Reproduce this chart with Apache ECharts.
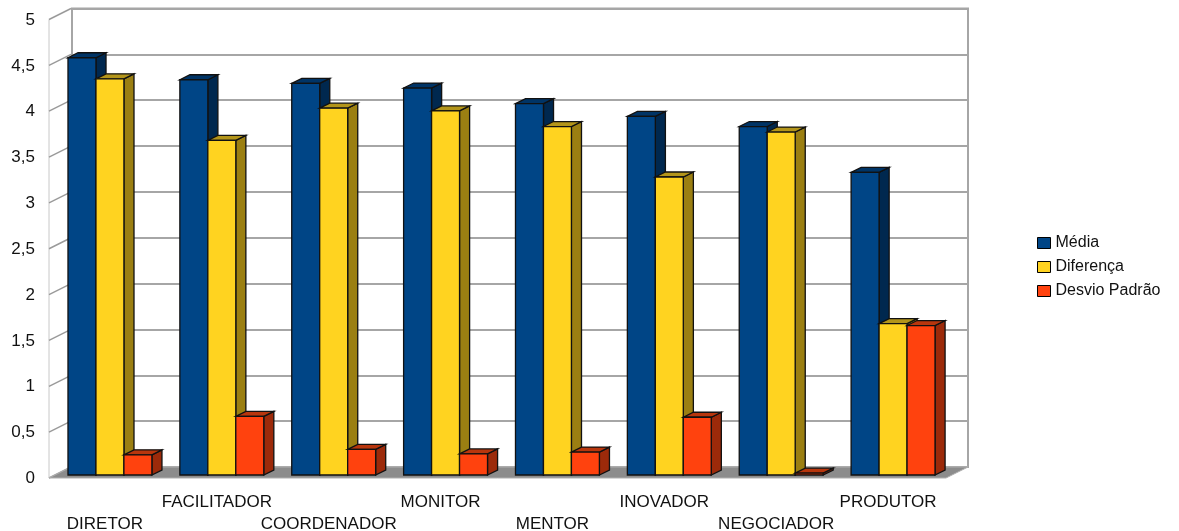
<!DOCTYPE html>
<html>
<head>
<meta charset="utf-8">
<script src="https://cdn.jsdelivr.net/npm/echarts@6/dist/echarts.min.js"></script>
<style>
  html, body { margin: 0; padding: 0; background: #fff; }
  #main { width: 1179px; height: 531px; }
</style>
</head>
<body>
<div id="main"></div>
<script>
// dados
var categories = ['DIRETOR', 'FACILITADOR', 'COORDENADOR', 'MONITOR', 'MENTOR', 'INOVADOR', 'NEGOCIADOR', 'PRODUTOR'];
var media = [4.55, 4.31, 4.27, 4.22, 4.05, 3.91, 3.80, 3.30];
var diferenca = [4.32, 3.65, 4.00, 3.97, 3.80, 3.25, 3.74, 1.65];
var desvio = [0.22, 0.64, 0.28, 0.23, 0.25, 0.63, 0.02, 1.63];
var yTicks = [0, 0.5, 1, 1.5, 2, 2.5, 3, 3.5, 4, 4.5, 5];
var seriesNames = ['Média', 'Diferença', 'Desvio Padrão'];

var font = '"Liberation Sans", Arial, sans-serif';

// cores: frente, lado, topo
var faces = [
    ['#004586', '#00284f', '#003466'],
    ['#ffd320', '#9b7f12', '#b3951a'],
    ['#ff420e', '#9c2a0a', '#b8360d']
];

function barRender(s) {
    return function (params, api) {
        var i = api.value(0), v = api.value(1);
        var base = api.coord([i, 0]);
        var top = api.coord([i, v]);
        var band = api.size([1, 0])[0];
        var w = band * 0.25;
        var x0 = base[0] - 1.5 * w + s * w;
        var x1 = x0 + w;
        var dx = band * 0.09, dy = -5;
        var st = { stroke: '#111', lineWidth: 1.3 };
        return {
            type: 'group',
            children: [
                { type: 'polygon', shape: { points: [[x1, top[1]], [x1 + dx, top[1] + dy], [x1 + dx, base[1] + dy], [x1, base[1]]] },
                  style: Object.assign({ fill: faces[s][1] }, st) },
                { type: 'polygon', shape: { points: [[x0, top[1]], [x0 + dx, top[1] + dy], [x1 + dx, top[1] + dy], [x1, top[1]]] },
                  style: Object.assign({ fill: faces[s][2] }, st) },
                { type: 'rect', shape: { x: x0, y: top[1], width: w, height: base[1] - top[1] },
                  style: Object.assign({ fill: faces[s][0] }, st) }
            ]
        };
    };
}

// chão e parede lateral
function decorRender(params, api) {
    var cs = params.coordSys;
    var base = api.coord([0, 0])[1];
    var fl = cs.x - 5, fr = cs.x + cs.width - 3;
    var bdx = 22, bdy = -11;
    var children = [];
    children.push({ type: 'line', shape: { x1: fl, y1: api.coord([0, 5])[1] + 3, x2: fl, y2: base + 3 },
        style: { stroke: '#c8c8c8', lineWidth: 1 } });
    yTicks.forEach(function (t) {
        var y = api.coord([0, t])[1] + 3;
        children.push({ type: 'line', shape: { x1: fl, y1: y, x2: fl + bdx, y2: y + bdy },
            style: { stroke: '#9a9a9a', lineWidth: 1.5 } });
    });
    children.push({ type: 'polygon', shape: { points: [[fl, base + 3], [fl + bdx, base + 3 + bdy], [fr + bdx, base + 3 + bdy], [fr, base + 3]] },
        style: { fill: '#8c8c8c', stroke: '#b0b0b0', lineWidth: 1 } });
    return { type: 'group', children: children };
}

var myChart = echarts.init(document.getElementById('main'));

var option = {
    animation: false,
    backgroundColor: '#fff',
    textStyle: { fontFamily: font },
    legend: {
        data: seriesNames.map(function (n) { return { name: n, icon: 'rect' }; }),
        orient: 'vertical',
        left: 1032,
        top: 230,
        itemWidth: 13,
        itemHeight: 11,
        itemGap: 8,
        itemStyle: { borderColor: '#000', borderWidth: 1 },
        textStyle: { fontSize: 16, color: '#111', fontFamily: font }
    },
    grid: [
        { left: 54, top: 16.5, width: 895, height: 458.5, outerBoundsMode: 'none' },
        { left: 72, top: 8.5, width: 896, height: 458.5, outerBoundsMode: 'none',
          show: true, borderColor: '#a6a6a6', borderWidth: 2, backgroundColor: '#fff' },
        // plano frontal, só para os rótulos do eixo y
        { left: 54, top: 20, width: 895, height: 458.5, outerBoundsMode: 'none' }
    ],
    xAxis: [
        {
            type: 'category', gridIndex: 0, data: categories,
            axisLine: { show: false }, axisTick: { show: false },
            axisLabel: {
                interval: 0, margin: 16, fontSize: 17, color: '#111', fontFamily: font,
                lineHeight: 22, padding: [0, 10, 0, 0],
                formatter: function (val, idx) { return idx % 2 ? val + '\n ' : ' \n' + val; }
            }
        },
        { type: 'value', gridIndex: 1, min: 0, max: 1, show: false },
        { type: 'value', gridIndex: 2, min: 0, max: 1, show: false }
    ],
    yAxis: [
        {
            type: 'value', gridIndex: 0, min: 0, max: 5, interval: 0.5,
            axisLine: { show: false }, axisTick: { show: false }, splitLine: { show: false },
            axisLabel: { show: false }
        },
        {
            type: 'value', gridIndex: 1, min: 0, max: 5, interval: 0.5,
            axisLine: { show: false }, axisTick: { show: false }, axisLabel: { show: false },
            splitLine: { lineStyle: { color: '#a6a6a6', width: 2 } }
        },
        {
            type: 'value', gridIndex: 2, min: 0, max: 5, interval: 0.5,
            axisLine: { show: false }, axisTick: { show: false }, splitLine: { show: false },
            axisLabel: {
                margin: 19, fontSize: 17, color: '#111', fontFamily: font,
                formatter: function (v) { return String(v).replace('.', ','); }
            }
        }
    ],
    series: [
        { type: 'custom', name: 'decor', xAxisIndex: 0, yAxisIndex: 0, silent: true, z: 1,
          data: [[0, 0]], renderItem: decorRender },
        { type: 'custom', name: seriesNames[0], xAxisIndex: 0, yAxisIndex: 0, z: 2,
          itemStyle: { color: faces[0][0] }, renderItem: barRender(0),
          data: media.map(function (v, i) { return [i, v]; }) },
        { type: 'custom', name: seriesNames[1], xAxisIndex: 0, yAxisIndex: 0, z: 2,
          itemStyle: { color: faces[1][0] }, renderItem: barRender(1),
          data: diferenca.map(function (v, i) { return [i, v]; }) },
        { type: 'custom', name: seriesNames[2], xAxisIndex: 0, yAxisIndex: 0, z: 2,
          itemStyle: { color: faces[2][0] }, renderItem: barRender(2),
          data: desvio.map(function (v, i) { return [i, v]; }) }
    ]
};
myChart.setOption(option);
</script>
</body>
</html>
